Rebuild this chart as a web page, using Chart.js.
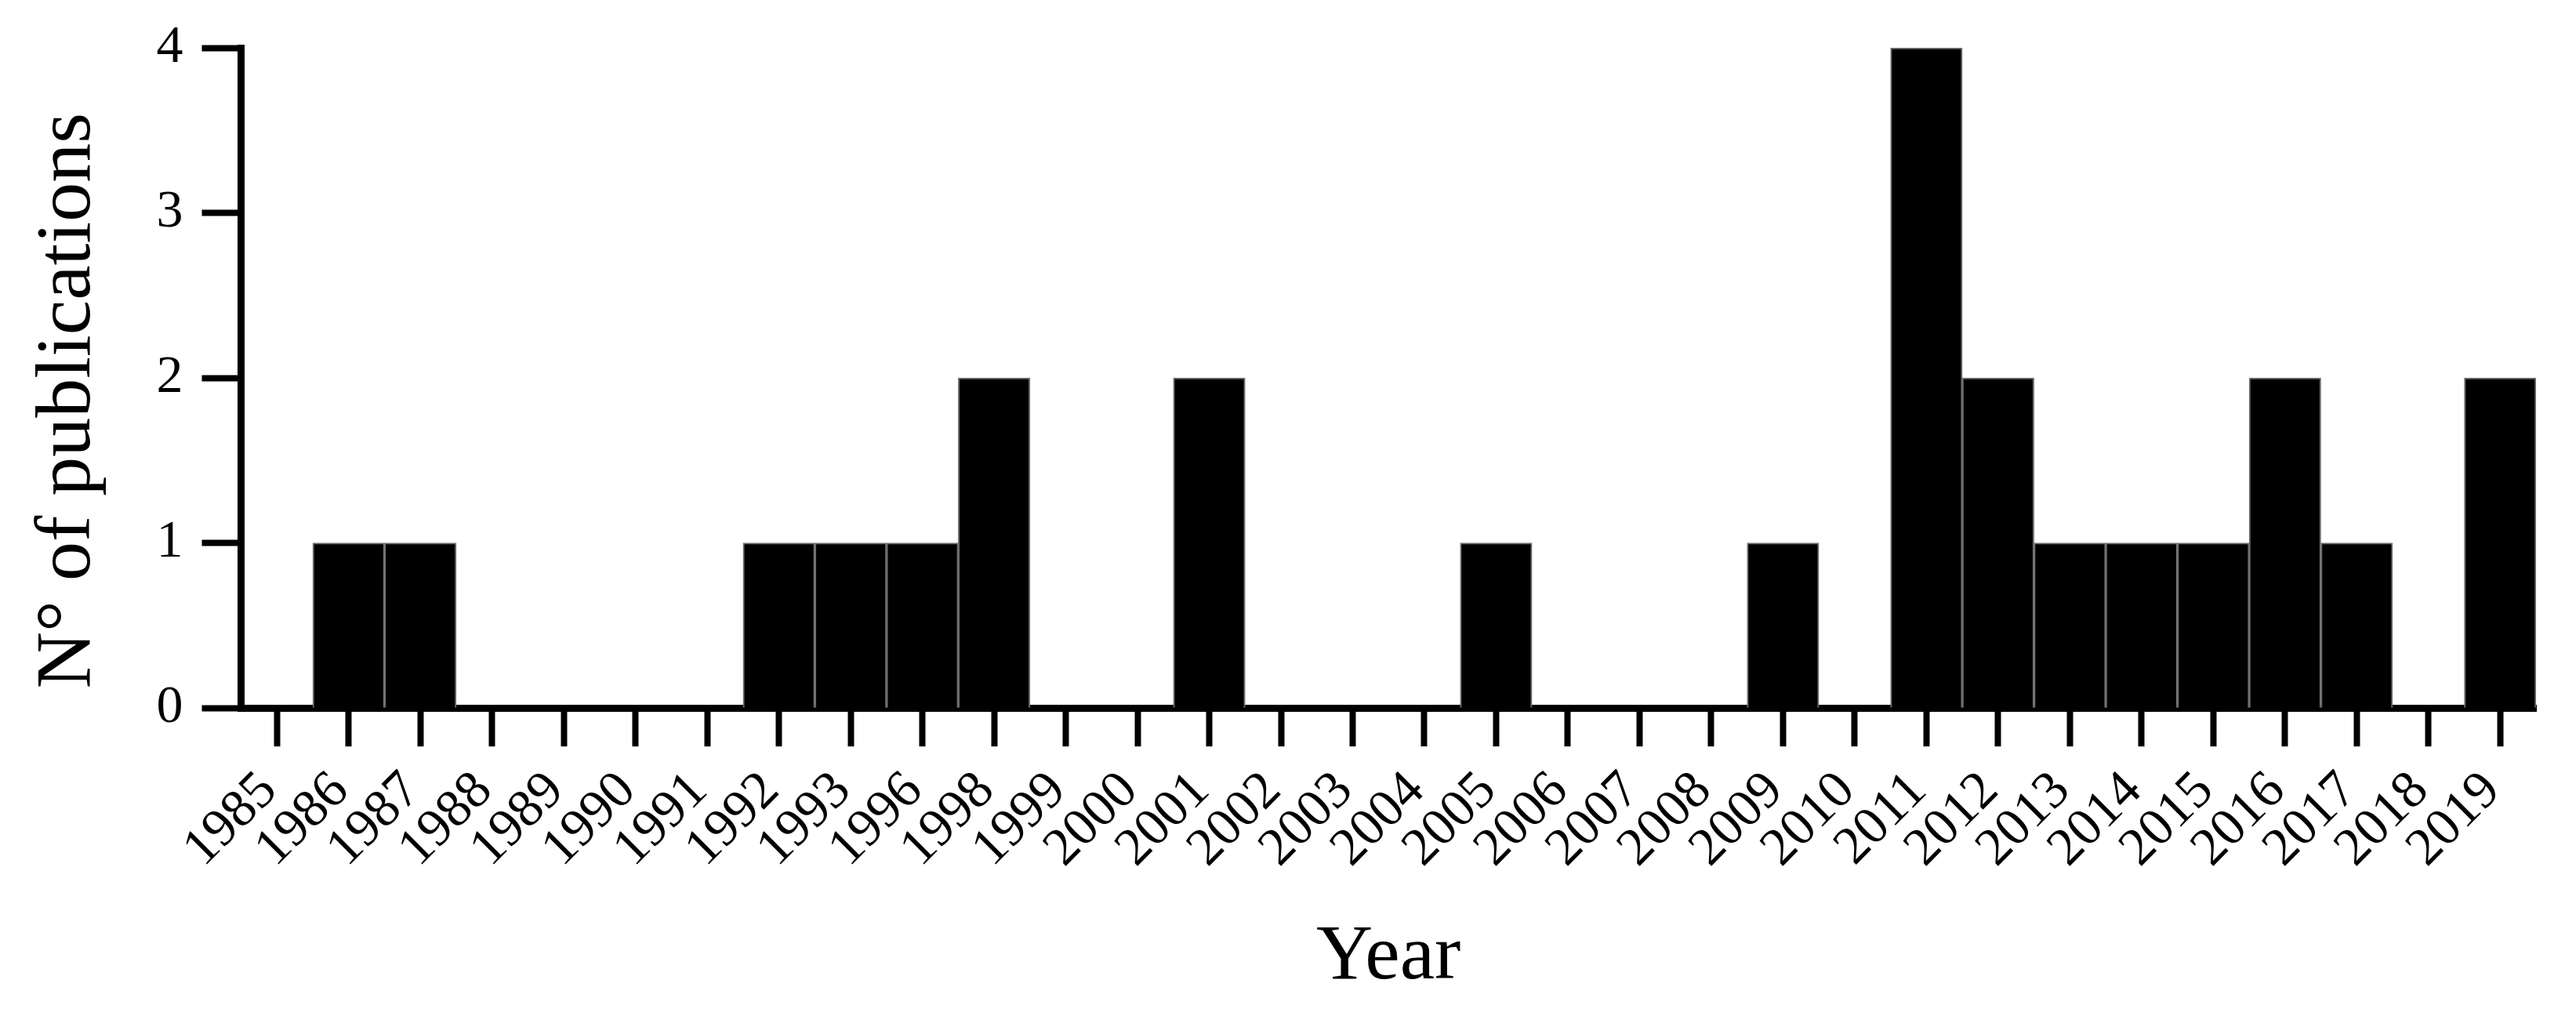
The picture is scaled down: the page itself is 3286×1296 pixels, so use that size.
<!DOCTYPE html>
<html>
<head>
<meta charset="utf-8">
<script src="https://cdn.jsdelivr.net/npm/chart.js@4.4.1/dist/chart.umd.min.js"></script>
<style>
  html, body { margin: 0; padding: 0; background: #fff; }
  #wrap { width: 3286px; height: 1296px; position: relative; }
</style>
</head>
<body>
<div id="wrap"><canvas id="pubChart"></canvas></div>
<script>
// Chart data
const years = ['1985', '1986', '1987', '1988', '1989', '1990', '1991', '1992', '1993', '1996',
    '1998', '1999', '2000', '2001', '2002', '2003', '2004', '2005', '2006', '2007', '2008',
    '2009', '2010', '2011', '2012', '2013', '2014', '2015', '2016', '2017', '2018', '2019'];
const publications = [0, 1, 1, 0, 0, 0, 0, 1, 1, 1,
    2, 0, 0, 2, 0, 0, 0, 1, 0, 0, 0,
    1, 0, 4, 2, 1, 1, 1, 2, 1, 0, 2];
const yTickValues = [0, 1, 2, 3, 4];
const yTitle = 'N° of publications';

const serif = '"Liberation Serif", "Times New Roman", serif';

// y title drawn by hand: it sits a little below the middle of the axis in the original
const yTitlePlugin = {
    id: 'yTitle',
    afterDraw(chart) {
        const { ctx, chartArea } = chart;
        ctx.save();
        ctx.font = '100px ' + serif;
        ctx.fillStyle = '#000';
        ctx.textAlign = 'center';
        ctx.textBaseline = 'middle';
        ctx.translate(88, (chartArea.top + chartArea.bottom) / 2 + 29);
        ctx.rotate(-Math.PI / 2);
        ctx.fillText(yTitle, 0, 0);
        ctx.restore();
    }
};

document.addEventListener('DOMContentLoaded', () => {
    const ctx = document.getElementById('pubChart').getContext('2d');

    new Chart(ctx, {
        type: 'bar',
        data: {
            labels: years,
            datasets: [{
                data: publications,
                backgroundColor: '#000',
                borderColor: '#6e6e6e',
                borderWidth: 2,
                barPercentage: 1,
                categoryPercentage: 1
            }]
        },
        options: {
            responsive: true,
            maintainAspectRatio: false,
            animation: false,
            layout: { padding: { left: 175.5, right: 51, top: 61, bottom: 14 } },
            plugins: {
                legend: { display: false },
                tooltip: { enabled: false }
            },
            scales: {
                x: {
                    grid: { offset: false, drawOnChartArea: false, drawTicks: true, tickLength: 49, tickWidth: 8, tickColor: '#000' },
                    border: { display: true, width: 9, color: '#000' },
                    ticks: { color: '#000', font: { family: serif, size: 68 }, autoSkip: false, maxRotation: 45, minRotation: 45, padding: 17, labelOffset: -10 },
                    title: { display: true, text: 'Year', color: '#000', font: { family: serif, size: 100 }, padding: { top: 22, bottom: 0 } }
                },
                y: {
                    min: yTickValues[0],
                    max: yTickValues[yTickValues.length - 1],
                    afterBuildTicks: axis => { axis.ticks = yTickValues.map(v => ({ value: v })); },
                    grid: { drawOnChartArea: false, drawTicks: true, tickLength: 50, tickWidth: 8, tickColor: '#000' },
                    border: { display: true, width: 9, color: '#000' },
                    ticks: { color: '#000', font: { family: serif, size: 68, lineHeight: 1 }, padding: 24 }
                }
            }
        },
        plugins: [yTitlePlugin]
    });
});
</script>
</body>
</html>
